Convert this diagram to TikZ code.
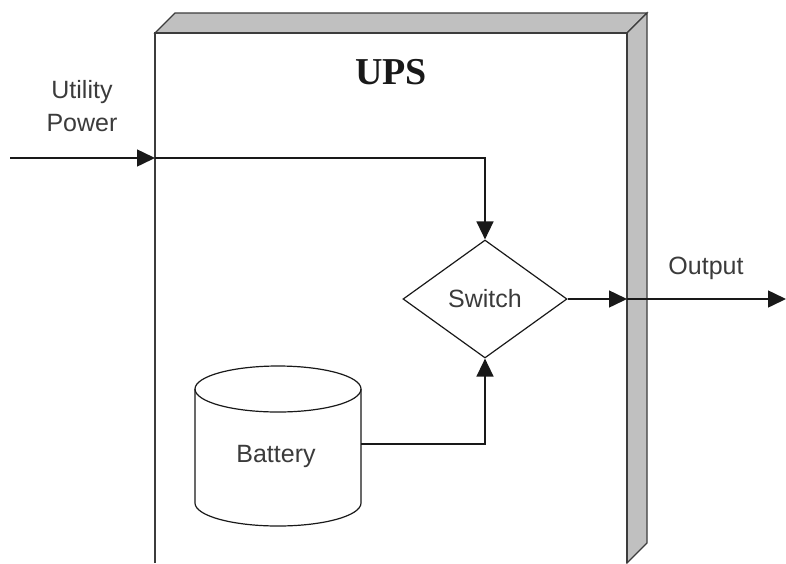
\documentclass[tikz,border=0pt]{standalone}
\usepackage{fontspec}
\setmainfont{Liberation Serif}
\setsansfont{Liberation Sans}
\usetikzlibrary{arrows.meta,shapes.geometric}
\definecolor{ink}{RGB}{25,25,25}
\definecolor{panel}{RGB}{192,192,192}
\definecolor{edge}{RGB}{60,60,60}
\tikzset{
  flow/.style={draw=ink, line width=1.5pt, -{Triangle[length=18pt,width=17pt]}},
  lbl/.style={font=\sffamily\fontsize{25}{33}\selectfont, text=ink!85, align=center},
}

\begin{document}
\begin{tikzpicture}[x=1pt,y=-1pt]
\useasboundingbox (0,0) rectangle (786,563);
% cabinet: top and side panels, then the open front face
\filldraw[fill=panel, draw=edge, line width=1.2pt] (155,33) -- (175,13) -- (647,13) -- (627,33) -- cycle;
\filldraw[fill=panel, draw=edge, line width=1.2pt] (627,33) -- (647,13) -- (647,543) -- (627,563) -- cycle;
\draw[edge, line width=1.6pt] (155,563) -- (155,33) -- (627,33) -- (627,563);
\node[font=\rmfamily\bfseries\fontsize{38}{40}\selectfont, text=ink] (ups) at (391,72) {UPS};

% switch and battery
\node[diamond, draw=ink, line width=1.2pt, minimum width=164pt, minimum height=118pt,
  aspect=1.4, inner sep=0pt, lbl] (switch) at (485,299) {Switch};
\draw[ink, line width=1.2pt, fill=white] (195,389) -- (195,503)
  arc[start angle=180, end angle=360, x radius=83pt, y radius=23pt] -- (361,389);
\draw[ink, line width=1.2pt] (278,389) ellipse [x radius=83pt, y radius=23pt];
\node[lbl] (battery) at (276,456) {Battery};

% texts outside the cabinet
\node[lbl] (utility) at (82,106) {Utility\\Power};
\node[lbl] (output) at (706,268) {Output};

% wiring
\coordinate (inL) at (10,158);
\coordinate (inEdge) at (155,158);
\coordinate (outEdge) at (627,299);
\coordinate (outR) at (786,299);
\coordinate (batt) at (361,444);
\draw[flow] (inL) -- (inEdge);
\draw[flow] (inEdge) -| (switch.north);
\draw[flow] (switch.east) -- (outEdge);
\draw[flow] (outEdge) -- (outR);
\draw[flow] (batt) -| (switch.south);
\end{tikzpicture}
\end{document}
